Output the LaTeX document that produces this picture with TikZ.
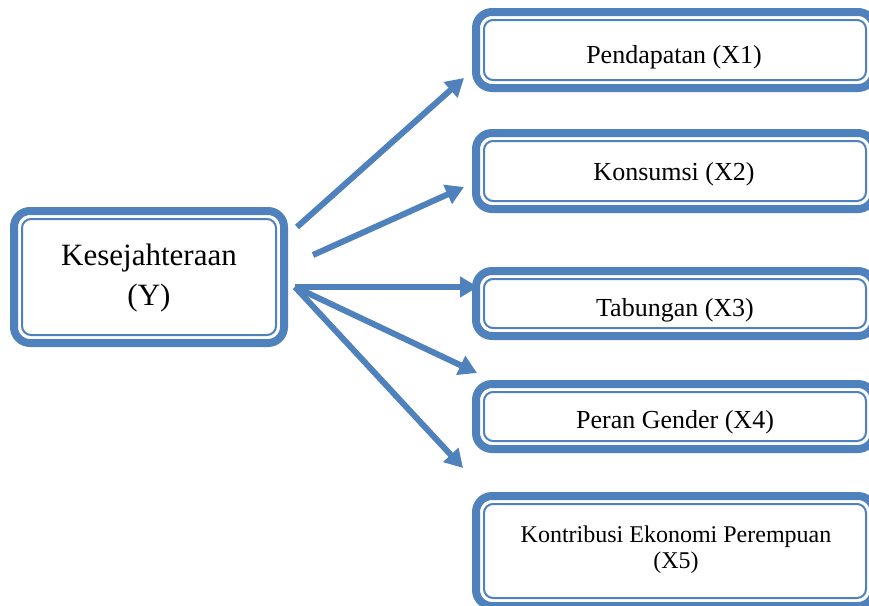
\documentclass[tikz,border=0pt]{standalone}
\usepackage{fontspec}
\setmainfont{Liberation Serif}
\usetikzlibrary{arrows.meta}
\definecolor{accent}{HTML}{4F81BD}
\begin{document}
\begin{tikzpicture}[x=1pt,y=-1pt,
  outerbox/.style={draw=accent, line width=8pt, rounded corners=16pt, rectangle, outer sep=0pt, inner sep=0pt, fill=white},
  innerline/.style={draw=accent, line width=2pt, rounded corners=9pt},
  lbl/.style={anchor=base, inner sep=0pt, font=\fontsize{26}{30}\selectfont},
  biglbl/.style={anchor=base, inner sep=0pt, font=\fontsize{31}{36}\selectfont},
  smalllbl/.style={anchor=base, inner sep=0pt, font=\fontsize{24}{28}\selectfont},
  arr/.style={draw=accent, line width=6pt, -{Triangle[length=18pt,width=20pt]}}]
\useasboundingbox (0,0) rectangle (869,605);
\clip (0,0) rectangle (869,605);
% boxes
\node[outerbox, minimum width=270pt, minimum height=132pt] (y) at (149,277) {};
\node[outerbox, minimum width=398pt, minimum height=76pt] (x1) at (675,50) {};
\node[outerbox, minimum width=398pt, minimum height=76pt] (x2) at (675,171) {};
\node[outerbox, minimum width=398pt, minimum height=65pt] (x3) at (675,303.5) {};
\node[outerbox, minimum width=398pt, minimum height=65pt] (x4) at (675,416.5) {};
\node[outerbox, minimum width=398pt, minimum height=110pt] (x5) at (675,551) {};
\foreach \b in {y,x1,x2,x3,x4,x5}{
  \draw[innerline] ([shift={(8,8)}]\b.north west) rectangle ([shift={(-8,-8)}]\b.south east);
}
% texts
\node[biglbl] (ty1) at (149,265) {Kesejahteraan};
\node[biglbl] (ty2) at (149,305) {(Y)};
\node[lbl] (t1) at (674,63) {Pendapatan (X1)};
\node[lbl] (t2) at (674,180) {Konsumsi (X2)};
\node[lbl] (t3) at (675,316) {Tabungan (X3)};
\node[lbl] (t4) at (675,428) {Peran Gender (X4)};
\node[smalllbl] (t5a) at (676,542) {Kontribusi Ekonomi Perempuan};
\node[smalllbl] (t5b) at (676,568) {(X5)};
% arrows
\coordinate (s1) at (297,227);
\coordinate (e1) at (464,78);
\coordinate (s2) at (313,255);
\coordinate (e2) at (464,187);
\coordinate (s3) at (295,287);
\coordinate (e3) at (478,287);
\coordinate (e4) at (477,373);
\coordinate (e5) at (463,468);
\draw[arr] (s1) -- (e1);
\draw[arr] (s2) -- (e2);
\draw[arr] (s3) -- (e3);
\draw[arr] (s3) -- (e4);
\draw[arr] (s3) -- (e5);
\end{tikzpicture}
\end{document}
